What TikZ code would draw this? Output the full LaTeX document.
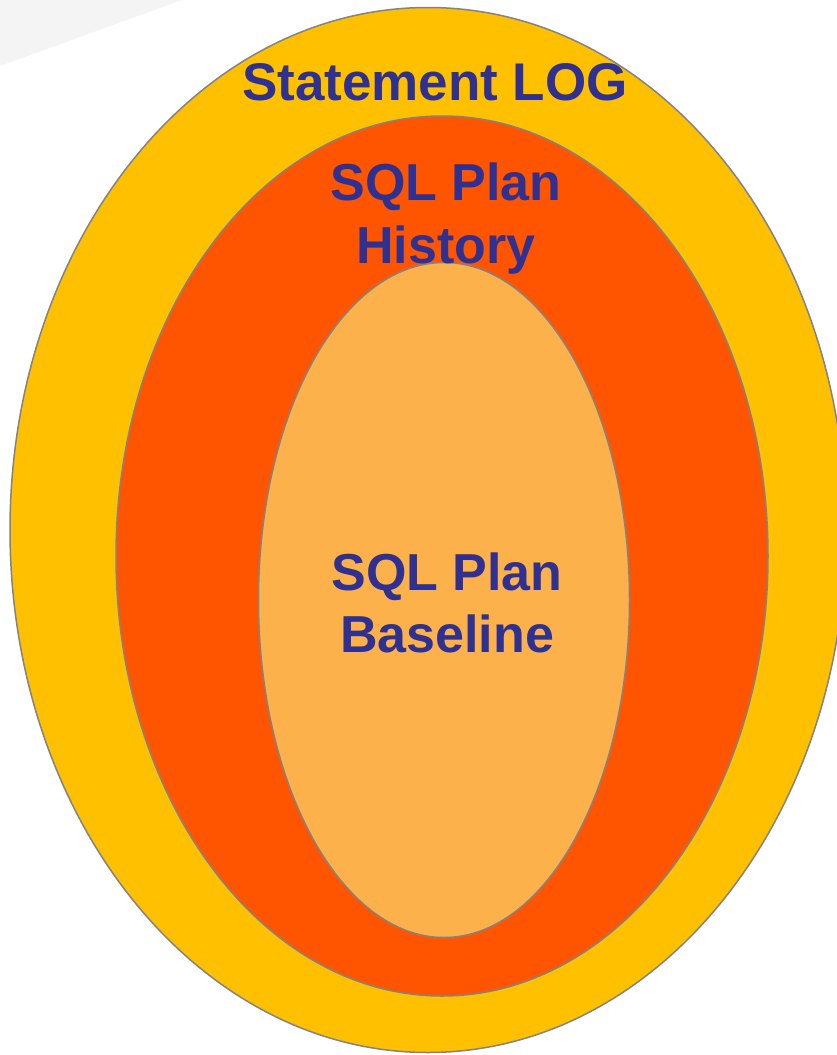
\documentclass[tikz,border=0pt]{standalone}
\usepackage{fontspec}
\setmainfont{Liberation Sans}
\usetikzlibrary{shapes.geometric}

\definecolor{logyellow}{HTML}{FFC000}
\definecolor{historange}{HTML}{FF5500}
\definecolor{baselight}{HTML}{FDB14A}
\definecolor{labelblue}{HTML}{2E3192}
\definecolor{rimgray}{HTML}{838383}

\begin{document}
\begin{tikzpicture}[x=1pt, y=-1pt,
    ring/.style={ellipse, draw=rimgray, line width=1.5pt, inner sep=0pt},
    label/.style={anchor=base, text=labelblue, inner sep=0pt,
        font=\bfseries\fontsize{52}{60}\selectfont}]
    \useasboundingbox (0,0) rectangle (836,1055);
    % grey corner
    \fill[gray!9] (0,0) -- (182,0) -- (0,66) -- cycle;

    % nested sets
    \node[ring, fill=logyellow, minimum width=836pt, minimum height=1045pt] (log) at (428,530) {};
    \node[ring, fill=historange, minimum width=652pt, minimum height=880pt] (history) at (442,556) {};
    \node[ring, fill=baselight, minimum width=371pt, minimum height=675pt] (baseline) at (444,600) {};

    % labels
    \node[label, font=\bfseries\fontsize{53}{60}\selectfont] (loglabel) at (435,100) {Statement LOG};
    \node[label] (histlabel) at (446,200) {SQL Plan};
    \node[label] (histlabelb) at (446,263) {History};
    \node[label] (baselabel) at (447,590) {SQL Plan};
    \node[label] (baselabelb) at (447,652) {Baseline};
\end{tikzpicture}
\end{document}
